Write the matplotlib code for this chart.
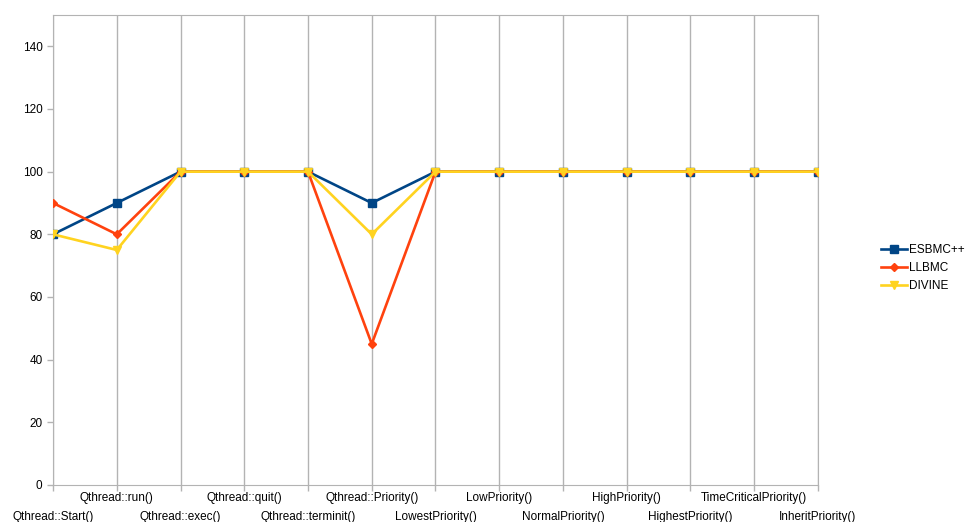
import matplotlib
matplotlib.use("Agg")
import matplotlib.pyplot as plt

plt.rcParams['font.family'] = ['Liberation Sans', 'DejaVu Sans']

# categories and series
methods = ["Qthread::Start()", "Qthread::run()", "Qthread::exec()", "Qthread::quit()",
           "Qthread::terminit()", "Qthread::Priority()", "LowestPriority()", "LowPriority()",
           "NormalPriority()", "HighPriority()", "HighestPriority()",
           "TimeCriticalPriority()", "InheritPriority()"]
esbmc = [80, 90, 100, 100, 100, 90, 100, 100, 100, 100, 100, 100, 100]
llbmc = [90, 80, 100, 100, 100, 45, 100, 100, 100, 100, 100, 100, 100]
divine = [80, 75, 100, 100, 100, 80, 100, 100, 100, 100, 100, 100, 100]

fig = plt.figure(figsize=(9.71, 5.22), dpi=100)
ax = fig.add_axes([0.0546, 0.0709, 0.7878, 0.9004])

x = list(range(len(methods)))
ax.plot(x, esbmc, color='#004586', lw=1.9, marker='s', ms=6, label='ESBMC++', zorder=3)
ax.plot(x, llbmc, color='#ff420e', lw=1.9, marker='D', ms=4.5, label='LLBMC', zorder=4)
ax.plot(x, divine, color='#ffd320', lw=1.9, marker='v', ms=6, label='DIVINE', zorder=5)

ax.set_xlim(0, len(methods) - 1)
ax.set_ylim(0, 150)
ax.set_yticks(range(0, 141, 20))

# labels alternate between two rows: odd ones on major ticks, even ones lower on minor ticks
upper = x[1::2]
lower = x[0::2]
ax.set_xticks(upper)
ax.set_xticklabels(methods[1::2])
ax.set_xticks(lower, minor=True)
ax.set_xticklabels(methods[0::2], minor=True)

ax.grid(axis='x', which='both', color='#b3b3b3', lw=1)
ax.set_axisbelow(True)
for s in ax.spines.values():
    s.set_color('#b3b3b3')
ax.tick_params(axis='both', which='both', colors='#b3b3b3', labelcolor='black',
               labelsize=8.5, length=4, width=1)
ax.tick_params(axis='x', which='major', pad=1)
ax.tick_params(axis='x', which='minor', pad=15)

fig.legend(loc='center left', bbox_to_anchor=(0.902, 0.487), frameon=False,
           fontsize=8.5, handlelength=2.2, handletextpad=0.2, labelspacing=0.5,
           borderaxespad=0)

fig.savefig("out.png", dpi=100)
